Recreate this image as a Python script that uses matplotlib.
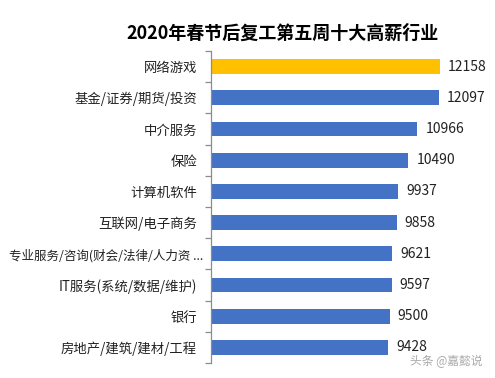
import matplotlib
matplotlib.use("Agg")
import numpy as np
from matplotlib import pyplot as plt
import matplotlib.transforms as mtransforms

plt.rcParams['font.family'] = ['Noto Sans CJK SC', 'DejaVu Sans']

# data
industries = ["网络游戏", "基金/证券/期货/投资", "中介服务", "保险", "计算机软件",
              "互联网/电子商务", "专业服务/咨询(财会/法律/人力资 ...",
              "IT服务(系统/数据/维护)", "银行", "房地产/建筑/建材/工程"]
salaries = [12158, 12097, 10966, 10490, 9937, 9858, 9621, 9597, 9500, 9428]
bar_colors = ["#FFC000"] + ["#4472C4"] * 9

title = "2020年春节后复工第五周十大高薪行业"
watermark = "头条 @嘉懿说"

fig = plt.figure(figsize=(4.95, 3.78), dpi=100)
W, H = 495, 378
ax_left, ax_right = 211, 482
ax_top, ax_bot = 51, 363
ax = fig.add_axes([ax_left / W, 1 - ax_bot / H, (ax_right - ax_left) / W, (ax_bot - ax_top) / H])

y = np.arange(len(industries))
ax.barh(y, salaries, height=0.47, color=bar_colors)
ax.set_ylim(len(industries) - 0.5, -0.5)
ax.set_xlim(0, 14400)

for yi, v in zip(y, salaries):
    ax.text(v + 420, yi, f"{v}", va='center', ha='left', fontsize=10, color='#222222')

# axes styling
for s in ['top', 'right', 'bottom']:
    ax.spines[s].set_visible(False)
ax.spines['left'].set_color('#8c8c8c')
ax.spines['left'].set_linewidth(0.9)
ax.set_xticks([])
ax.set_yticks(y)
ax.set_yticklabels(industries, fontsize=9.6, color='#222222')
ax.tick_params(axis='y', which='major', length=0, pad=10)
ax.set_yticks(np.arange(-0.5, len(industries)), minor=True)
ax.tick_params(axis='y', which='minor', length=4, color='#8c8c8c', width=0.9, direction='out')

# the long label sits closer to the axis and a bit smaller, like the original
long_lbl = ax.get_yticklabels()[6]
long_lbl.set_fontsize(9.0)
long_lbl.set_transform(long_lbl.get_transform() +
                       mtransforms.ScaledTranslation(6 / 100, 0, fig.dpi_scale_trans))

fig.text(283 / W, 1 - 33 / H, title, ha='center', va='center',
         fontsize=13, fontweight='bold', color='black')
fig.text(446 / W, 1 - 361 / H, watermark, ha='center', va='center',
         fontsize=8.5, color='#aaaaaa')

fig.savefig("out.png", dpi=100)
